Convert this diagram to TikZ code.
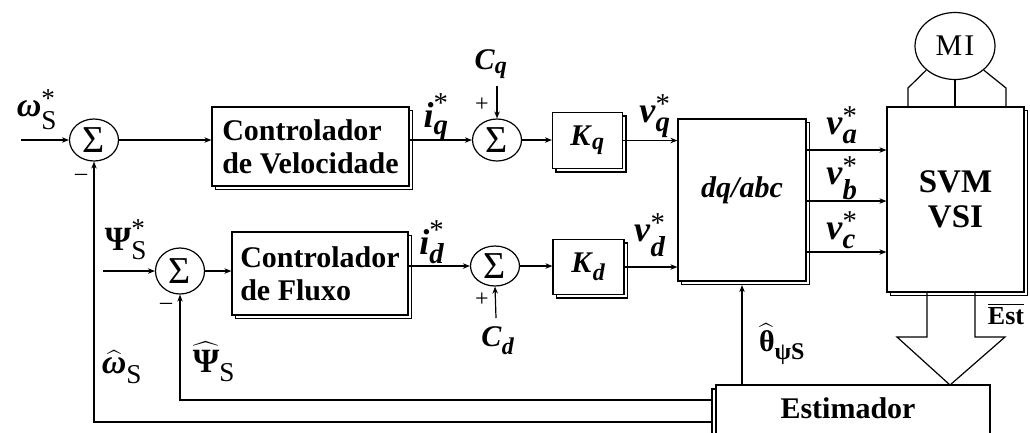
\documentclass[tikz,border=0pt]{standalone}
\usepackage{amsmath}
\usepackage{exscale}
\usepackage{fontspec}
\setmainfont{Liberation Serif}
\usetikzlibrary{shapes.geometric,shadows,arrows.meta}
\renewcommand\defaultscriptratio{.8}
\newcommand\bi[1]{\textbf{\textit{#1}}}
\begin{document}
\begin{tikzpicture}[x=1pt,y=-1pt,
  line width=1.2pt,
  >={Stealth[length=7pt,width=5.5pt]},
  box/.style={draw, fill=white, rectangle, inner sep=0pt,
    copy shadow={shadow xshift=3.5pt, shadow yshift=-3.5pt}},
  sumnode/.style={draw, ellipse, inner sep=0pt, minimum width=49pt,
    minimum height=42pt, font=\fontsize{38}{38}\selectfont},
  lbl/.style={inner sep=0pt, font=\fontsize{36}{38}\selectfont},
  glbl/.style={inner sep=0pt, font=\fontsize{34}{36}\selectfont},
  clbl/.style={inner sep=0pt, font=\fontsize{30}{32}\selectfont},
  sgn/.style={inner sep=0pt, font=\fontsize{24}{24}\selectfont},
  txt/.style={font=\fontsize{30}{33}\selectfont\bfseries},
]
\useasboundingbox (0,0) rectangle (1030,432);
\clip (0,0) rectangle (1030,432);

% ---- row 1
\node[sumnode] (s1) at (94,140) {Σ};
\node[box, minimum width=197pt, minimum height=79pt, txt, align=left] (c1) at (310.5,146.5) {Controlador\\de Velocidade};
\node[sumnode] (s2) at (497,140) {Σ};
\node[box, minimum width=70pt, minimum height=56pt, clbl] (kq) at (587.5,140.5) {$\text{\bi{K}}_{\text{\bi{q}}}$};
% ---- dq/abc, SVM, MI
\node[box, minimum width=128pt, minimum height=162pt] (dq) at (742,200) {};
\node[inner sep=0pt, font=\fontsize{30}{30}\selectfont] (dqt) at (742,190) {\bi{dq/abc}};
\node[box, minimum width=137pt, minimum height=185pt, font=\fontsize{33}{35}\selectfont\bfseries, align=center] (svm) at (955.5,199.5) {SVM\\VSI};
\node[draw, ellipse, inner sep=0pt, minimum width=80pt, minimum height=67pt, font=\fontsize{30}{30}\selectfont] (mi) at (955,46) {M\hspace{2pt}I};
% ---- row 2
\node[sumnode, minimum height=46pt] (s3) at (180,271) {Σ};
\node[box, minimum width=176pt, minimum height=83pt, txt, align=left] (c2) at (320,273.5) {Controlador\\de Fluxo};
\node[sumnode, minimum height=40pt] (s4) at (495,266) {Σ};
\node[box, minimum width=71pt, minimum height=55pt, clbl] (kd) at (588.5,267) {$\text{\bi{K}}_{\text{\bi{d}}}$};
% ---- estimator
\node[draw, fill=white, rectangle, inner sep=0pt, minimum width=274pt, minimum height=80pt,
  copy shadow={shadow xshift=-4pt, shadow yshift=-4pt}] (est) at (853,425) {};
\node[inner sep=0pt, txt] (estt) at (848,408) {Estimador};

% ---- connectors row 1
\coordinate (win) at (21,140);
\draw[->] (win) -- (s1);
\draw[->] (s1) -- (s1 -| c1.west);
\draw[->] (s2 -| c1.east) -- (s2);
\draw[->] (s2) -- (s2 -| kq.west);
\draw[->] (kq.east) -- (kq.east -| dq.west);
\coordinate (cqin) at (497,86);
\draw[->] (cqin) -- (s2.north);
% ---- connectors row 2
\coordinate (psin) at (103,271);
\draw[->] (psin) -- (s3);
\draw[->] (s3) -- (s3 -| c2.west);
\draw[->] (s4 -| c2.east) -- (s4);
\draw[->] (s4) -- (s4 -| kd.west);
\draw[->] (kd.east) -- (kd.east -| dq.west);
\coordinate (cdin) at (496,318);
\draw[->] (cdin) -- (s4.south);
% ---- dq/abc to SVM
\draw[->] (dq.east |- 0,150) -- (svm.west |- 0,150);
\draw[->] (dq.east |- 0,201) -- (svm.west |- 0,201);
\draw[->] (dq.east |- 0,252) -- (svm.west |- 0,252);
% ---- motor leads
\coordinate (l1) at (908,88);
\coordinate (r1) at (1006,88);
\draw (mi.-140) -- (l1) -- (l1 |- svm.north);
\draw (mi.south) -- (mi.south |- svm.north);
\draw (mi.-40) -- (r1) -- (r1 |- svm.north);
% ---- block arrow SVM -> estimator
\draw (927,292) -- (927,337) -- (897,337) -- (950,385) -- (1005,337) -- (975,337) -- (975,292);
% ---- theta arrow
\draw[->] (dq.south |- est.north) -- ([yshift=-3.5pt]dq.south);
% ---- feedback
\coordinate (fb1) at (712,422);
\coordinate (fb2) at (712,400);
\draw[->] (fb1) -| (s1.south);
\draw[->] (fb2) -| (s3.south);

% ---- labels
\node[glbl] (lw) at (37,110) {$\text{\bi{ω}}^{\text{*}}_{\text{S}}$};
\node[lbl] (liq) at (436,117) {$\text{\bi{i}}^{\text{*}}_{\text{\bi{q}}}$};
\node[lbl] (lvq) at (655,116) {$\text{\bi{v}}^{\text{*}}_{\text{\bi{q}}}$};
\node[clbl] (lcq) at (491,64) {$\text{\bi{C}}_{\text{\bi{q}}}$};
\node[glbl] (lps) at (126,240) {$\text{\bfseries Ψ}^{\text{*}}_{\text{S}}$};
\node[lbl] (lid) at (432,242) {$\text{\bi{i}}^{\text{*}}_{\text{\bi{d}}}$};
\node[lbl] (lvd) at (650,235) {$\text{\bi{v}}^{\text{*}}_{\text{\bi{d}}}$};
\node[clbl] (lcd) at (498,341) {$\text{\bi{C}}_{\text{\bi{d}}}$};
\node[lbl] (lva) at (842,125) {$\text{\bi{v}}^{\text{*}}_{\text{\bi{a}}}$};
\node[lbl] (lvb) at (842,178) {$\text{\bi{v}}^{\text{*}}_{\text{\bi{b}}}$};
\node[lbl] (lvc) at (842,230) {$\text{\bi{v}}^{\text{*}}_{\text{\bi{c}}}$};
\node[glbl] (lwh) at (122,367) {$\widehat{\text{\bi{ω}}}_{\text{S}}$};
\node[glbl] (lph) at (214,362) {$\widehat{\text{\bfseries Ψ}}_{\text{S}}$};
\node[clbl] (lth) at (782,344) {$\widehat{\text{\bfseries θ}}_{\text{\bfseries ψS}}$};
\node[inner sep=0pt, font=\fontsize{26}{26}\selectfont\bfseries] (lest) at (1006,314) {$\overline{\text{Est}}$};
\node[sgn] (m1) at (81,177) {–};
\node[sgn] (m2) at (166,306) {–};
\node[sgn] (p1) at (482,105) {+};
\node[sgn] (p2) at (482,300) {+};
\end{tikzpicture}
\end{document}
